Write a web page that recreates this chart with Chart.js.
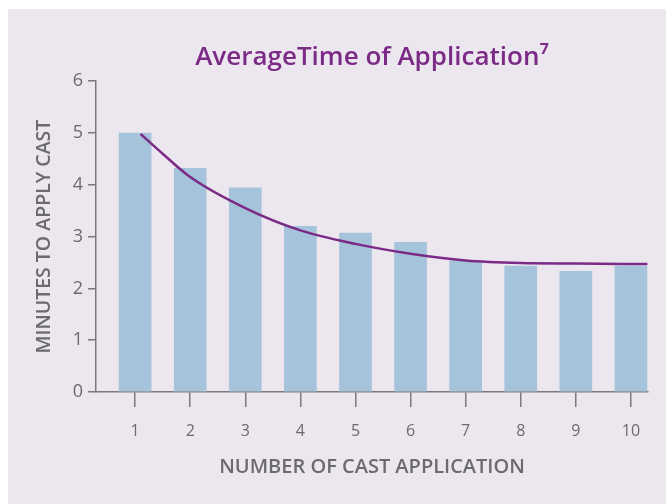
<!DOCTYPE html>
<html>
<head>
<meta charset="utf-8">
<script src="https://cdn.jsdelivr.net/npm/chart.js@4"></script>
<style>
    html, body { margin: 0; padding: 0; background: #ffffff; }
    #wrap { position: relative; width: 666px; height: 504px; }
</style>
</head>
<body>
<div id="wrap"><canvas id="castChart" width="666" height="504"></canvas></div>
<script>
// values
const applications = [1, 2, 3, 4, 5, 6, 7, 8, 9, 10];
const minutes = [5.0, 4.32, 3.94, 3.2, 3.07, 2.89, 2.53, 2.43, 2.33, 2.43];
const trendX = [1.1, 1.5, 2, 3, 4, 5, 6, 7, 8, 9, 10.3];
const trendY = [4.98, 4.6, 4.15, 3.55, 3.12, 2.86, 2.67, 2.54, 2.49, 2.48, 2.47];
const yTicks = [0, 1, 2, 3, 4, 5, 6];

const axisGrey = '#7a7a7a';
const textGrey = '#6b6b6b';
const purple = '#7b2a86';

const panelBackground = {
    id: 'panelBackground',
    beforeDraw(chart) {
        const ctx = chart.ctx;
        ctx.save();
        ctx.fillStyle = '#ece7ef';
        ctx.fillRect(8, 9, chart.width - 8, chart.height - 9);
        ctx.restore();
    }
};

const ctx = document.getElementById('castChart').getContext('2d');

new Chart(ctx, {
    data: {
        datasets: [{
            type: 'line',
            label: 'Trend',
            data: trendX.map((x, i) => ({x: x, y: trendY[i]})),
            borderColor: purple,
            borderWidth: 2.5,
            pointRadius: 0,
            cubicInterpolationMode: 'monotone',
            order: 0
        }, {
            type: 'bar',
            label: 'Minutes',
            data: applications.map((a, i) => ({x: a, y: minutes[i]})),
            backgroundColor: '#a5c3da',
            barThickness: 32,
            order: 1
        }]
    },
    options: {
        responsive: false,
        animation: false,
        layout: {padding: {left: 0, right: 18, top: 0, bottom: 0}},
        plugins: {
            legend: {display: false},
            tooltip: {enabled: false},
            title: {
                display: true,
                fullSize: false,
                text: 'AverageTime of Application\u2077',
                color: purple,
                font: {family: 'Open Sans', size: 26, weight: '600'},
                padding: {top: 42, bottom: 8}
            }
        },
        scales: {
            x: {
                type: 'linear',
                offset: false,
                min: 0.29,
                max: 10.31,
                afterBuildTicks: (scale) => {
                    scale.ticks = applications.map(v => ({value: v}));
                },
                afterFit: (scale) => { scale.height = 112; },
                grid: {display: true, offset: false, drawOnChartArea: false, drawTicks: true, tickLength: 15, color: axisGrey, lineWidth: 1.5},
                border: {display: true, color: axisGrey, width: 1.5},
                ticks: {color: textGrey, font: {family: 'Open Sans', size: 16}, padding: 15, maxRotation: 0, autoSkip: false},
                title: {
                    display: true,
                    text: 'NUMBER OF CAST APPLICATION',
                    color: textGrey,
                    font: {family: 'Open Sans', size: 20, weight: '600'},
                    padding: {top: 0, bottom: 25}
                }
            },
            y: {
                min: 0,
                max: 6,
                afterBuildTicks: (scale) => {
                    scale.ticks = yTicks.map(v => ({value: v}));
                },
                afterFit: (scale) => { scale.width = 96; },
                grid: {display: true, drawOnChartArea: false, drawTicks: true, tickLength: 8, color: axisGrey, lineWidth: 1.5},
                border: {display: true, color: axisGrey, width: 1.5},
                ticks: {color: textGrey, font: {family: 'Open Sans', size: 18}, padding: 5},
                title: {
                    display: true,
                    text: 'MINUTES TO APPLY CAST',
                    color: textGrey,
                    font: {family: 'Open Sans', size: 19.5, weight: '600'},
                    padding: {top: 33, bottom: 0}
                }
            }
        }
    },
    plugins: [panelBackground]
});
</script>
</body>
</html>
